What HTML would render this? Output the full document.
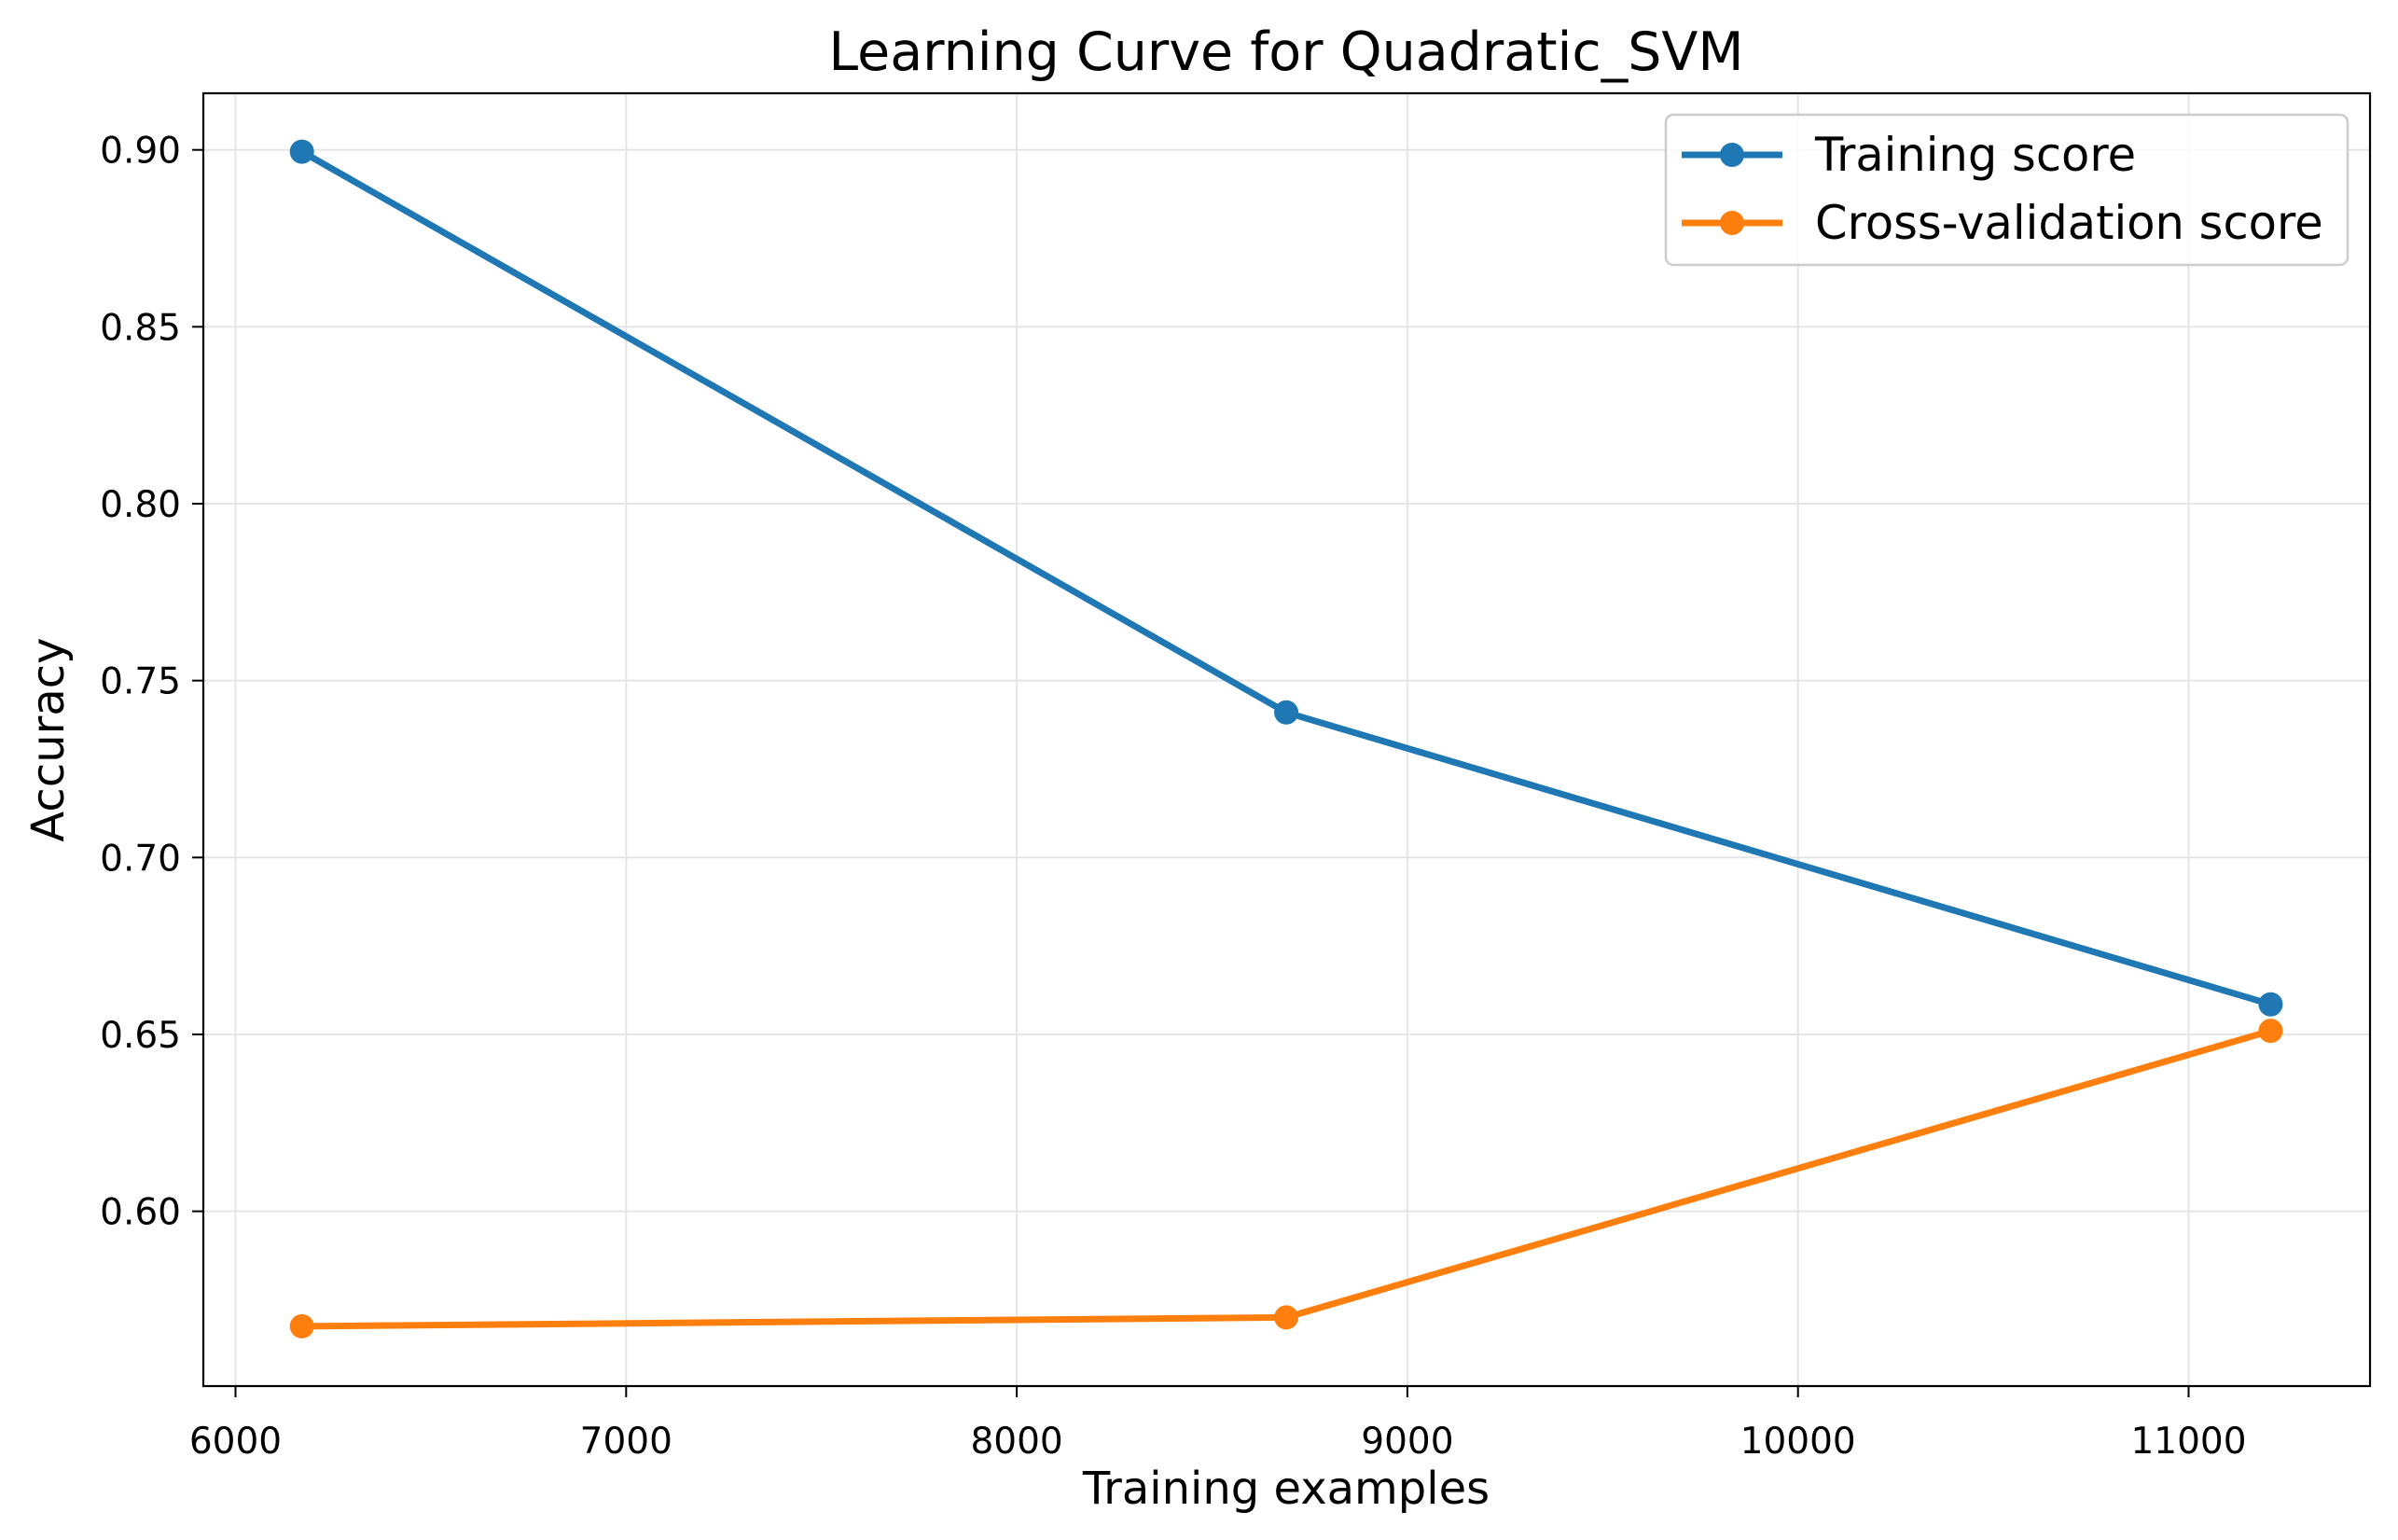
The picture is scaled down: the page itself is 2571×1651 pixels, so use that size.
<!DOCTYPE html>
<html><head><meta charset="utf-8"><style>body{margin:0;background:#fff}svg{display:block}text{font-family:"DejaVu Sans","Liberation Sans",sans-serif}</style></head>
<body>
<svg id="chart" width="2571" height="1651" xmlns="http://www.w3.org/2000/svg">
<rect width="2571" height="1651" fill="#fff"/>
<g id="grid"></g>
<g id="series"></g>
<rect x="218" y="100" width="2323" height="1386" fill="none" stroke="#000" stroke-width="2.2"/>
<g id="ticks"></g>
<text x="1379" y="75" font-size="57" text-anchor="middle">Learning Curve for Quadratic_SVM</text>
<text x="1379" y="1612" font-size="48" text-anchor="middle">Training examples</text>
<text x="0" y="0" font-size="48" text-anchor="middle" transform="translate(68,793) rotate(-90)">Accuracy</text>
<g>
<rect x="1786" y="123" width="731" height="161" rx="8" fill="#fff" fill-opacity="0.8" stroke="#ccc" stroke-width="2.5"/>
<g>
<line x1="1803" y1="166" x2="1911" y2="166" stroke="#1f77b4" stroke-width="7"/><circle cx="1857" cy="166" r="13" fill="#1f77b4"/>
<text x="1946" y="183" font-size="49.5">Training score</text></g>
<g>
<line x1="1803" y1="239" x2="1911" y2="239" stroke="#ff7f0e" stroke-width="7"/><circle cx="1857" cy="239" r="13" fill="#ff7f0e"/>
<text x="1946" y="256" font-size="49.5">Cross-validation score</text></g>
</g>
</svg>
<script>
const trainSizes=[6170,8690,11210];
const trainScores=[0.8995,0.741,0.6585];
const cvScores=[0.5675,0.570,0.651];
const xTicks=[6000,7000,8000,9000,10000,11000];
const yTicks=[0.60,0.65,0.70,0.75,0.80,0.85,0.90];
const yTickLabels=["0.60","0.65","0.70","0.75","0.80","0.85","0.90"];
const NS="http://www.w3.org/2000/svg";
function xs(v){return 252.5+(v-6000)*(2346.5-252.5)/5000;}
function ys(v){return 1298.6-(v-0.60)*(1298.6-160.7)/0.30;}
function mk(t,a,p){const e=document.createElementNS(NS,t);for(const k in a)e.setAttribute(k,a[k]);p.appendChild(e);return e;}
const grid=document.getElementById('grid'),ticks=document.getElementById('ticks'),ser=document.getElementById('series');
xTicks.forEach(v=>{const x=xs(v);
const g=mk('line',{x1:x,x2:x,y1:100,y2:1486,stroke:'#e5e5e5','stroke-width':2},grid);


const t=mk('line',{x1:x,x2:x,y1:1486,y2:1498,stroke:'#000','stroke-width':2},ticks);


const l=mk('text',{x:x,y:1558,'font-size':39,'text-anchor':'middle'},ticks);l.textContent=v;

});
yTicks.forEach((v,i)=>{const y=ys(v);
const g=mk('line',{x1:218,x2:2541,y1:y,y2:y,stroke:'#e5e5e5','stroke-width':2},grid);


const t=mk('line',{x1:206,x2:218,y1:y,y2:y,stroke:'#000','stroke-width':2},ticks);


const l=mk('text',{x:194,y:y+14,'font-size':39,'text-anchor':'end'},ticks);l.textContent=yTickLabels[i];

});
function series(vals,color,name){
const pts=trainSizes.map((s,i)=>xs(s)+','+ys(vals[i])).join(' ');
const pl=mk('polyline',{points:pts,fill:'none',stroke:color,'stroke-width':7,'stroke-linejoin':'round'},ser);


trainSizes.forEach((s,i)=>{const c=mk('circle',{cx:xs(s),cy:ys(vals[i]),r:13,fill:color},ser);

});}
series(trainScores,'#1f77b4','training-score');
series(cvScores,'#ff7f0e','cv-score');
</script>
</body></html>
